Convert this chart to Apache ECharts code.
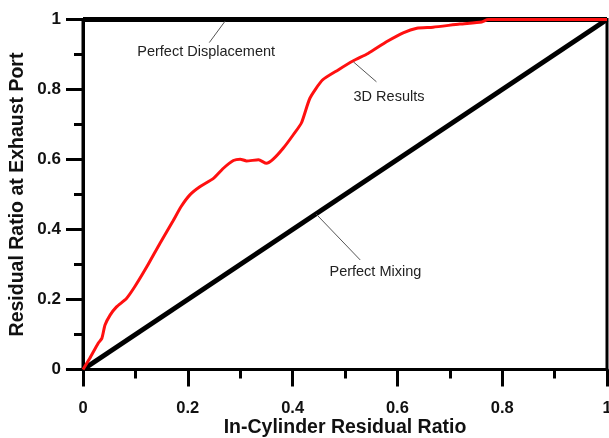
<!DOCTYPE html>
<html><head><meta charset="utf-8">
<script src="https://cdn.jsdelivr.net/npm/echarts@6/dist/echarts.min.js"></script>
<style>html,body{margin:0;padding:0;background:#fff}#c{width:609px;height:438px}</style>
</head><body><div id="c"></div>
<script>
const xTicks = [0, 0.2, 0.4, 0.6, 0.8, 1];
const yTicks = [0, 0.2, 0.4, 0.6, 0.8, 1];
const resultsX = [0, 0.013, 0.029, 0.036, 0.042, 0.052, 0.064, 0.083, 0.099, 0.122, 0.147, 0.172, 0.187, 0.204, 0.223, 0.249, 0.268, 0.287, 0.300, 0.312, 0.335, 0.350, 0.363, 0.382, 0.401, 0.417, 0.433, 0.457, 0.487, 0.516, 0.544, 0.580, 0.611, 0.637, 0.668, 0.719, 0.761, 0.773, 1.0];
const resultsY = [0, 0.032, 0.075, 0.089, 0.127, 0.156, 0.179, 0.203, 0.237, 0.294, 0.361, 0.425, 0.465, 0.499, 0.522, 0.546, 0.575, 0.597, 0.601, 0.596, 0.599, 0.589, 0.601, 0.632, 0.670, 0.705, 0.775, 0.827, 0.856, 0.882, 0.903, 0.937, 0.962, 0.975, 0.978, 0.987, 0.993, 1.0, 1.0];
const displacementX = [0, 1];
const displacementY = [1, 1];
const mixingX = [0, 1];
const mixingY = [0, 1];
const annotations = [
  {text: 'Perfect Displacement', from: [0.271, 0.995], to: [0.241, 0.934], label: [0.235, 0.907]},
  {text: '3D Results', from: [0.516, 0.879], to: [0.560, 0.822], label: [0.584, 0.779]},
  {text: 'Perfect Mixing', from: [0.445, 0.444], to: [0.529, 0.313], label: [0.558, 0.279]}
];
const FONT = '"Liberation Sans", Arial, sans-serif';
const zip = (a, b) => a.map((v, i) => [v, b[i]]);
const chart = echarts.init(document.getElementById('c'));
const axisCommon = {
  type: 'value', min: 0, max: 1, interval: 0.2,
  axisLine: {show: true, lineStyle: {color: '#000', width: 3}},
  axisTick: {show: true, inside: false, length: 17, lineStyle: {color: '#000', width: 3}},
  minorTick: {show: true, splitNumber: 2, length: 9, lineStyle: {color: '#000', width: 3}},
  splitLine: {show: false},
  nameLocation: 'middle',
  nameMoveOverlap: false,
  nameTextStyle: {fontFamily: FONT, fontWeight: 'bold', fontSize: 19.5, color: '#111'},
};
chart.setOption({
  animation: false,
  grid: {left: 83, right: 2, top: 19.5, bottom: 68.5, outerBoundsMode: 'none', containLabel: false,
    show: true, borderColor: '#000', borderWidth: 3, backgroundColor: 'transparent'},
  xAxis: Object.assign({}, axisCommon, {
    name: 'In-Cylinder Residual Ratio', nameGap: 48,
    axisLabel: {margin: 30, fontFamily: FONT, fontWeight: 'bold', fontSize: 16.5, color: '#111',
      formatter: v => xTicks.includes(+v.toFixed(2)) ? String(+v.toFixed(2)) : ''}
  }),
  yAxis: Object.assign({}, axisCommon, {
    name: 'Residual Ratio at Exhaust Port', nameGap: 55,
    axisLabel: {margin: 22, fontFamily: FONT, fontWeight: 'bold', fontSize: 17, color: '#111',
      formatter: v => yTicks.includes(+v.toFixed(2)) ? String(+v.toFixed(2)) : ''}
  }),
  series: [
    {name: 'Perfect Displacement', type: 'line', data: zip(displacementX, displacementY), symbol: 'none', clip: false,
      lineStyle: {color: '#000', width: 5}, z: 3},
    {name: 'Perfect Mixing', type: 'line', data: zip(mixingX, mixingY), symbol: 'none', clip: false,
      lineStyle: {color: '#000', width: 5}, z: 3},
    {name: '3D Results', type: 'line', data: zip(resultsX, resultsY), symbol: 'none', clip: false, smooth: 0.2,
      lineStyle: {color: '#ff1010', width: 3}, z: 4}
  ]
});
const g = [];
annotations.forEach(a => {
  const p1 = chart.convertToPixel({gridIndex: 0}, a.from);
  const p2 = chart.convertToPixel({gridIndex: 0}, a.to);
  const pl = chart.convertToPixel({gridIndex: 0}, a.label);
  g.push({type: 'line', shape: {x1: p1[0], y1: p1[1], x2: p2[0], y2: p2[1]}, style: {stroke: '#555', lineWidth: 1}, z: 10});
  g.push({type: 'text', x: pl[0], y: pl[1], style: {text: a.text, fontFamily: FONT, fontSize: 14.5, fill: '#222', align: 'center', verticalAlign: 'middle'}, z: 10});
});
chart.setOption({graphic: g});
</script></body></html>
